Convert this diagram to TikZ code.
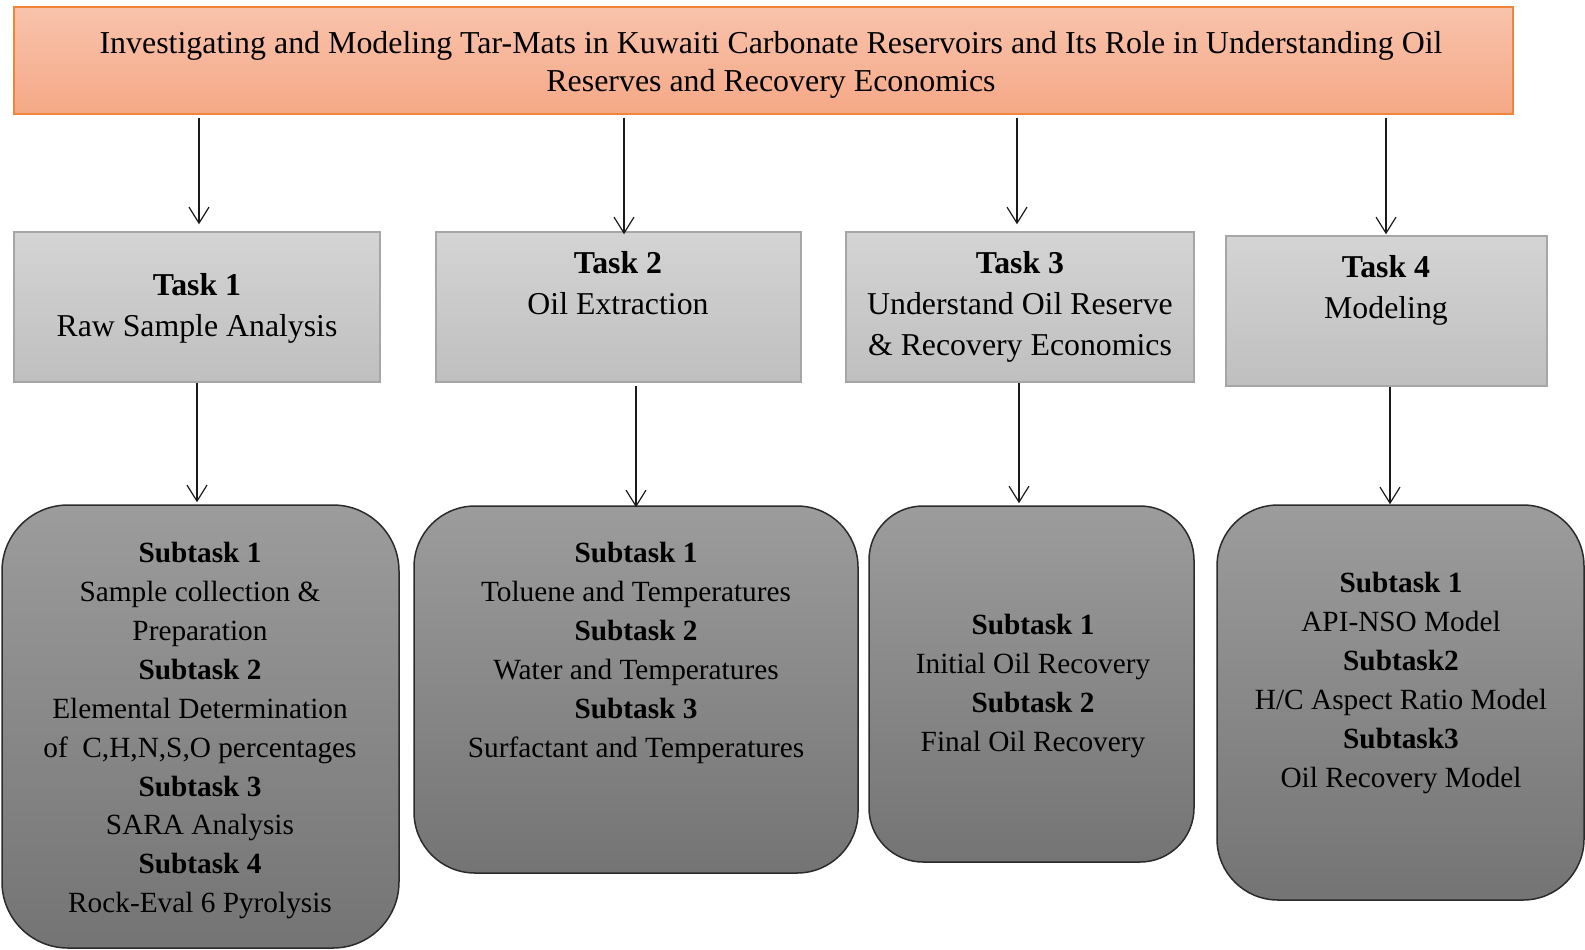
\documentclass[tikz,border=0pt]{standalone}
\usepackage{fontspec}
\setmainfont{Liberation Serif}
\usetikzlibrary{arrows.meta}
\definecolor{bannertop}{HTML}{F8C3AC}
\definecolor{bannerbot}{HTML}{F5A886}
\definecolor{bannerline}{HTML}{F2843A}
\definecolor{tasktop}{HTML}{D4D4D4}
\definecolor{taskbot}{HTML}{BFBFBF}
\definecolor{taskline}{HTML}{A6A6A6}
\definecolor{subtop}{HTML}{9C9C9C}
\definecolor{subbot}{HTML}{747474}
\definecolor{subline}{HTML}{2B2B2B}
\definecolor{arrowc}{HTML}{1A1A1A}
\begin{document}
\begin{tikzpicture}[x=0.5pt,y=-0.5pt,
  bannerbox/.style={draw=bannerline, line width=0.75pt, top color=bannertop, bottom color=bannerbot, minimum width=749.5pt, minimum height=53.5pt, inner sep=0pt},
  taskbox/.style={draw=taskline, line width=0.75pt, top color=tasktop, bottom color=taskbot, minimum height=75pt, inner sep=0pt},
  subbox/.style={draw=subline, line width=0.75pt, top color=subtop, bottom color=subbot, inner sep=0pt},
  bannertxt/.style={anchor=north, inner sep=0pt, align=center, font=\fontsize{15.95pt}{19pt}\selectfont},
  tasktxt/.style={anchor=north, inner sep=0pt, align=center, font=\fontsize{15.9pt}{20.6pt}\selectfont},
  subtxt/.style={anchor=north, inner sep=0pt, align=center, font=\fontsize{14.65pt}{19.45pt}\selectfont},
  arr/.style={draw=arrowc, line width=0.6pt, -{Straight Barb[length=8pt,width=10pt]}}
]
\useasboundingbox (0,0) rectangle (1585,949);

% banner
\node[bannerbox] (banner) at (763.5,60.5) {};
\node[bannertxt] (bannert) at (771,26.4) {\strut Investigating and Modeling Tar-Mats in Kuwaiti Carbonate Reservoirs and Its Role in Understanding Oil\\Reserves and Recovery Economics};

% tasks
\node[taskbox, minimum width=183pt] (t1) at (197,307) {};
\node[taskbox, minimum width=182.5pt] (t2) at (618.5,307) {};
\node[taskbox, minimum width=174pt] (t3) at (1020,307) {};
\node[taskbox, minimum width=160.5pt] (t4) at (1386.5,311) {};

\node[tasktxt] (t1t) at (197,266) {\strut\textbf{Task 1}\\Raw Sample Analysis};
\node[tasktxt] (t2t) at (618,244) {\strut\textbf{Task 2}\\Oil Extraction};
\node[tasktxt] (t3t) at (1020,244) {\strut\textbf{Task 3}\\Understand Oil Reserve\\\& Recovery Economics};
\node[tasktxt] (t4t) at (1386,248) {\strut\textbf{Task 4}\\Modeling};

% subtasks
\node[subbox, minimum width=198.5pt, minimum height=221.5pt, rounded corners=33pt] (s1) at (200.5,726.5) {};
\node[subbox, minimum width=222pt, minimum height=183.5pt, rounded corners=30.5pt] (s2) at (636,689.5) {};
\node[subbox, minimum width=162.5pt, minimum height=178pt, rounded corners=27pt] (s3) at (1031.5,684) {};
\node[subbox, minimum width=183.5pt, minimum height=197.5pt, rounded corners=30.5pt] (s4) at (1400.5,702.5) {};

\node[subtxt] (s1t) at (200,535) {\strut\textbf{Subtask 1}\\Sample collection \&\\Preparation\\\textbf{Subtask 2}\\Elemental Determination\\of~ C,H,N,S,O percentages\\\textbf{Subtask 3}\\SARA Analysis\\\textbf{Subtask 4}\\Rock-Eval 6 Pyrolysis};
\node[subtxt] (s2t) at (636,535) {\strut\textbf{Subtask 1}\\Toluene and Temperatures\\\textbf{Subtask 2}\\Water and Temperatures\\\textbf{Subtask 3}\\Surfactant and Temperatures};
\node[subtxt] (s3t) at (1033,607) {\strut\textbf{Subtask 1}\\Initial Oil Recovery\\\textbf{Subtask 2}\\Final Oil Recovery};
\node[subtxt] (s4t) at (1401,565) {\strut\textbf{Subtask 1}\\API-NSO Model\\\textbf{Subtask2}\\H/C Aspect Ratio Model\\\textbf{Subtask3}\\Oil Recovery Model};

% arrows banner -> tasks
\draw[arr, shorten <=1.5pt, shorten >=3.5pt] (banner.south -| 199,0) -- (t1.north -| 199,0);
\draw[arr, shorten <=1.5pt, shorten >=-1.5pt] (banner.south -| 624,0) -- (t2.north -| 624,0);
\draw[arr, shorten <=1.5pt, shorten >=3.5pt] (banner.south -| 1017,0) -- (t3.north -| 1017,0);
\draw[arr, shorten <=1.5pt, shorten >=0.5pt] (banner.south -| 1386,0) -- (t4.north -| 1386,0);

% arrows tasks -> subtasks
\draw[arr, shorten >=1pt] (t1.south -| 197,0) -- (s1.north -| 197,0);
\draw[arr, shorten <=1.5pt, shorten >=-1pt] (t2.south -| 636,0) -- (s2.north -| 636,0);
\draw[arr, shorten >=1pt] (t3.south -| 1019,0) -- (s3.north -| 1019,0);
\draw[arr] (t4.south -| 1390,0) -- (s4.north -| 1390,0);
\end{tikzpicture}
\end{document}
